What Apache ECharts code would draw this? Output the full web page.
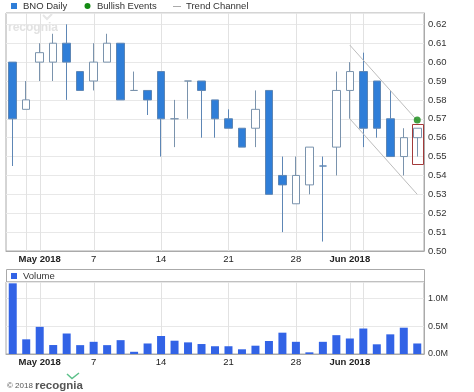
<!DOCTYPE html>
<html>
<head>
<meta charset="utf-8">
<script src="https://cdn.jsdelivr.net/npm/echarts@6/dist/echarts.min.js"></script>
<style>html,body{margin:0;padding:0;background:#fff;}#c{width:474px;height:392px;}</style>
</head>
<body>
<div id="c"></div>
<script>
const dates = ['2018-04-27','2018-04-30','2018-05-01','2018-05-02','2018-05-03','2018-05-04','2018-05-07','2018-05-08','2018-05-09','2018-05-10','2018-05-11','2018-05-14','2018-05-15','2018-05-16','2018-05-17','2018-05-18','2018-05-21','2018-05-22','2018-05-23','2018-05-24','2018-05-25','2018-05-28','2018-05-29','2018-05-30','2018-05-31','2018-06-01','2018-06-04','2018-06-05','2018-06-06','2018-06-07','2018-06-08'];
const opens  = [0.600,0.575,0.600,0.600,0.610,0.595,0.590,0.600,0.610,0.585,0.585,0.595,0.570,0.590,0.590,0.580,0.570,0.565,0.565,0.585,0.540,0.525,0.535,0.545,0.555,0.585,0.595,0.590,0.570,0.550,0.560];
const closes = [0.570,0.580,0.605,0.610,0.600,0.585,0.600,0.610,0.580,0.585,0.580,0.570,0.570,0.590,0.585,0.570,0.565,0.555,0.575,0.530,0.535,0.540,0.555,0.545,0.585,0.595,0.565,0.565,0.550,0.560,0.565];
const lows   = [0.545,0.575,0.590,0.590,0.580,0.585,0.585,0.600,0.580,0.585,0.572,0.550,0.555,0.570,0.560,0.560,0.565,0.555,0.555,0.530,0.510,0.525,0.530,0.505,0.540,0.570,0.555,0.560,0.550,0.540,0.550];
const highs  = [0.600,0.590,0.610,0.615,0.620,0.595,0.610,0.615,0.610,0.595,0.585,0.595,0.580,0.590,0.590,0.580,0.575,0.565,0.585,0.585,0.550,0.550,0.555,0.550,0.595,0.600,0.605,0.590,0.585,0.565,0.565];
const volumes = [1.276,0.265,0.49,0.162,0.37,0.16,0.22,0.16,0.25,0.04,0.19,0.325,0.24,0.21,0.18,0.14,0.14,0.085,0.15,0.235,0.385,0.22,0.03,0.22,0.34,0.28,0.46,0.175,0.355,0.475,0.19];
const trendDates = ['2018-06-01','2018-06-08'];
const trendUpper = [0.609,0.569];
const trendLower = [0.570,0.530];
const bullishDates = ['2018-06-08'];
const bullishValues = [0.5693];
const highlightDates = ['2018-06-08'];
const highlightLow = [0.5465];
const highlightHigh = [0.5675];
const xLabelDates = ['2018-05-01','2018-05-07','2018-05-14','2018-05-21','2018-05-28','2018-06-01'];
const xLabelTexts = ['May 2018','7','14','21','28','Jun 2018'];
const xLabelBold = [true,false,false,false,false,true];
const gridDates = ['2018-04-30','2018-05-01','2018-05-07','2018-05-14','2018-05-21','2018-05-28','2018-06-01','2018-06-04'];

const FONT = 'Liberation Sans, Arial, sans-serif';
const TXT = '#333';
const candleData = dates.map((d,i)=>[opens[i],closes[i],lows[i],highs[i]]);

function xLabelFmt(v){
  const k = xLabelDates.indexOf(v);
  if (k < 0) return '';
  return xLabelBold[k] ? '{b|' + xLabelTexts[k] + '}' : '{n|' + xLabelTexts[k] + '}';
}
const xRich = {b:{fontWeight:'bold',fontSize:9.5,color:'#222',fontFamily:FONT}, n:{fontSize:9.5,color:'#222',fontFamily:FONT}};

function makeX(gi, margin){
  return {
    type:'category', gridIndex:gi, data:dates, boundaryGap:true,
    axisLine:{show:true,lineStyle:{color:'#aaa'}},
    axisTick:{show:false},
    splitLine:{show:false},
    axisLabel:{interval:(idx,v)=>xLabelDates.indexOf(v)>=0, formatter:xLabelFmt, rich:xRich, margin:margin, hideOverlap:false}
  };
}
function vlineSeries(gi){
  return {type:'custom',xAxisIndex:gi,yAxisIndex:gi,z:1,silent:true,
    data:gridDates.map(d=>[d]),
    encode:{x:0},
    renderItem:(params,api)=>{
      const cs = params.coordSys;
      const x = Math.round(api.coord([api.value(0),0])[0])+0.5;
      return {type:'line',shape:{x1:x,y1:cs.y,x2:x,y2:cs.y+cs.height},style:{stroke:'#e2e2e2',lineWidth:1}};
    }};
}

const option = {
  animation:false,
  textStyle:{fontFamily:FONT},
  grid:[
    {left:6,right:50,top:13,height:238,show:true,borderColor:'#aaa',borderWidth:1,backgroundColor:'transparent'},
    {left:6,right:50,top:282,height:72,show:true,borderColor:'#aaa',borderWidth:1,backgroundColor:'transparent'}
  ],
  xAxis:[makeX(0,3), makeX(1,3)],
  yAxis:[
    {type:'value',gridIndex:0,position:'right',min:0.5,max:0.626,interval:0.01,
     axisLine:{show:true,lineStyle:{color:'#aaa'}},axisTick:{show:false},
     splitLine:{show:true,lineStyle:{color:'#e8e8e8'}},
     axisLabel:{margin:4,color:TXT,fontSize:9.5,fontFamily:FONT,
       formatter:v=>Math.abs(v*100-Math.round(v*100))<1e-6 ? v.toFixed(2) : ''}},
    {type:'value',gridIndex:1,position:'right',min:0,max:1.3,interval:0.5,
     axisLine:{show:true,lineStyle:{color:'#aaa'}},axisTick:{show:false},
     splitLine:{show:true,lineStyle:{color:'#e8e8e8'}},
     axisLabel:{margin:4,color:TXT,fontSize:9,fontFamily:FONT,
       formatter:v=>Math.abs(v*2-Math.round(v*2))<1e-6 ? v.toFixed(1)+'M' : ''}}
  ],
  series:[
    vlineSeries(0),
    vlineSeries(1),
    {name:'BNO Daily',type:'candlestick',xAxisIndex:0,yAxisIndex:0,data:candleData,barWidth:8,z:3,
     itemStyle:{color:'#ffffff',color0:'#2f7ed8',borderColor:'#7a93ad',borderColor0:'#5d86b5',borderWidth:1}},
    {name:'Trend Channel',type:'line',xAxisIndex:0,yAxisIndex:0,symbol:'none',z:4,
     lineStyle:{color:'#bcbcbc',width:1},data:trendDates.map((d,i)=>[d,trendUpper[i]])},
    {name:'Trend Channel',type:'line',xAxisIndex:0,yAxisIndex:0,symbol:'none',z:4,
     lineStyle:{color:'#bcbcbc',width:1},data:trendDates.map((d,i)=>[d,trendLower[i]])},
    {type:'custom',xAxisIndex:0,yAxisIndex:0,z:5,
     data:highlightDates.map((d,i)=>[d,highlightLow[i],highlightHigh[i]]),
     renderItem:(params,api)=>{
       const p1 = api.coord([api.value(0),api.value(2)]);
       const p2 = api.coord([api.value(0),api.value(1)]);
       const w = api.size([1,0])[0]*0.84;
       return {type:'rect',shape:{x:Math.round(p1[0]-w/2)+0.5,y:Math.round(p1[1])+0.5,width:Math.round(w),height:Math.round(p2[1]-p1[1])},
               style:{fill:'none',stroke:'#a33a3a',lineWidth:1}};
     }},
    {name:'Bullish Events',type:'scatter',xAxisIndex:0,yAxisIndex:0,z:6,symbolSize:7,
     itemStyle:{color:'#138a13'},data:bullishDates.map((d,i)=>[d,bullishValues[i]])},
    {name:'Volume',type:'bar',xAxisIndex:1,yAxisIndex:1,data:volumes,barWidth:8,z:3,
     itemStyle:{color:'#3263e6'}}
  ],
  graphic:[
    {type:'rect',shape:{x:11,y:3,width:6,height:6},style:{fill:'#2f7ed8'}},
    {type:'text',x:23,y:6,style:{text:'BNO Daily',fill:TXT,font:'9.5px '+FONT,textVerticalAlign:'middle'}},
    {type:'circle',shape:{cx:87.5,cy:6,r:3},style:{fill:'#138a13'}},
    {type:'text',x:97,y:6,style:{text:'Bullish Events',fill:TXT,font:'9.5px '+FONT,textVerticalAlign:'middle'}},
    {type:'line',shape:{x1:173,y1:6.5,x2:181,y2:6.5},style:{stroke:'#aaa',lineWidth:1}},
    {type:'text',x:186,y:6,style:{text:'Trend Channel',fill:TXT,font:'9.5px '+FONT,textVerticalAlign:'middle'}},
    {type:'polyline',shape:{points:[[43,15],[47,19],[52,14]]},style:{stroke:'#e6e6e6',lineWidth:2,fill:'none'},z:0},
    {type:'text',x:8,y:28,z:0,style:{text:'recognia',fill:'#e2e2e2',font:'bold 12px '+FONT,textVerticalAlign:'middle'}},
    {type:'rect',shape:{x:6.5,y:269.5,width:418,height:12.5},style:{fill:'none',stroke:'#aaa',lineWidth:1}},
    {type:'rect',shape:{x:11,y:273,width:6,height:6},style:{fill:'#3263e6'}},
    {type:'text',x:23,y:276,style:{text:'Volume',fill:TXT,font:'9.5px '+FONT,textVerticalAlign:'middle'}},
    {type:'text',x:7,y:386,style:{text:'© 2018',fill:'#555',font:'8px '+FONT,textVerticalAlign:'middle'}},
    {type:'text',x:35,y:386,style:{text:'recognia',fill:'#555',font:'bold 11.5px '+FONT,textVerticalAlign:'middle'}},
    {type:'polyline',shape:{points:[[67,374],[72,378.5],[79,373]]},style:{stroke:'#5cc08a',lineWidth:1.5,fill:'none'}}
  ]
};
const chart = echarts.init(document.getElementById('c'),null,{renderer:'canvas'});
chart.setOption(option);
</script>
</body>
</html>
